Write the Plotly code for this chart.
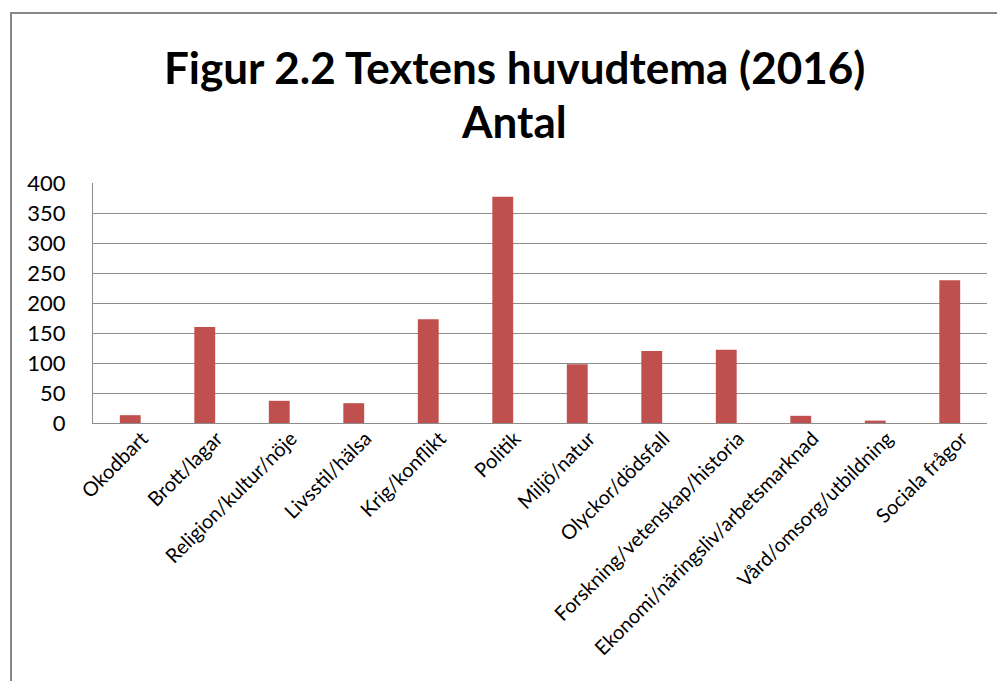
"""Figur 2.2 Textens huvudtema (2016) - bar chart recreated with Plotly."""

import plotly.graph_objects as go

# --- data -----------------------------------------------------------------
categories = [
    "Okodbart", "Brott/lagar", "Religion/kultur/nöje", "Livsstil/hälsa",
    "Krig/konflikt", "Politik", "Miljö/natur", "Olyckor/dödsfall",
    "Forskning/vetenskap/historia", "Ekonomi/näringsliv/arbetsmarknad",
    "Vård/omsorg/utbildning", "Sociala frågor",
]
counts = [13, 160, 37, 33, 173, 377, 98, 120, 122, 12, 4, 238]
y_ticks = [0, 50, 100, 150, 200, 250, 300, 350, 400]
title_lines = ["Figur 2.2 Textens huvudtema (2016)", "Antal"]

BAR = "#C0504D"
GRID = "#8C8C8C"
FONT = "Lato"

fig = go.Figure(go.Bar(
    x=categories, y=counts,
    marker=dict(color=BAR, line=dict(width=0)),
    hoverinfo="x+y",
))

# the page body adds an 8px offset, so work in figure coords = page - 8
OFF = 8
FW, FH = 1005 - OFF, 681 - OFF
# plot area sits at x 93..987, y 183..423 in the page
L, T = 93 - OFF, 183 - OFF
W, H = 894, 240
R, B = FW - L - W, FH - T - H


def px_x(page_x):
    return (page_x - OFF - L) / W


def px_y(page_y):
    return (T + H - (page_y - OFF)) / H


# chart border (Excel-style frame, runs off right/bottom edges)
bx, by = px_x(11), px_y(13)
fig.add_shape(
    type="path", xref="paper", yref="paper",
    path=f"M {bx},-2 L {bx},{by} L 1.2,{by}",
    line=dict(color="#878787", width=2),
)

# two-line bold title
for text, py in zip(title_lines, [67, 121]):
    fig.add_annotation(
        text=f"<b>{text}</b>", showarrow=False,
        xref="paper", yref="paper",
        x=px_x(514), y=px_y(py),
        xanchor="center", yanchor="middle",
        font=dict(family=FONT, size=44, color="black"),
    )

fig.update_layout(
    width=FW, height=FH,
    margin=dict(l=L, r=R, t=T, b=B, autoexpand=False),
    paper_bgcolor="white", plot_bgcolor="white",
    bargap=0.72, showlegend=False,
    font=dict(family=FONT, color="black"),
)
fig.update_xaxes(
    tickangle=-45, tickfont=dict(size=20),
    showline=True, linecolor=GRID, linewidth=1,
    showgrid=False, ticks="",
    ticklabelstandoff=-5, ticklabelshift=12,
)
fig.update_yaxes(
    range=[0, 400], tickvals=y_ticks, tickfont=dict(size=22),
    showline=True, linecolor=GRID, linewidth=1,
    showgrid=True, gridcolor=GRID, gridwidth=1,
    ticks="", ticklabelstandoff=22, zeroline=False,
)

fig.write_html("out.html")
